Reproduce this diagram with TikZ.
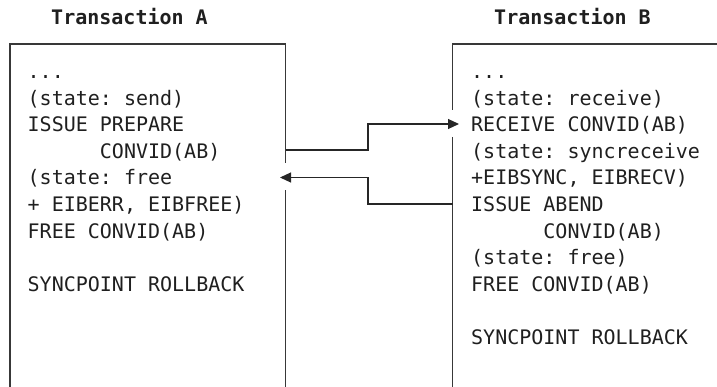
\documentclass[tikz,border=0pt]{standalone}
\usepackage{fontspec}
\newfontfamily\mono{DejaVu Sans Mono}
\usetikzlibrary{arrows.meta}
\tikzset{
  edge/.style={draw=black!78, line width=1.3pt},
  conn/.style={draw=black!85, line width=1.1pt},
  tip/.style={-{Triangle[length=11pt,width=10pt]}},
  title/.style={font={\mono\bfseries\fontsize{20}{24}\selectfont}, text=black!88, inner sep=0pt, anchor=base},
  code/.style={font={\mono\frenchspacing\fontsize{20}{26.6}\selectfont}, text=black!88, inner sep=0pt, align=left, anchor=base west},
}
\newcommand{\ind}{\hphantom{CONVID}}
\begin{document}
\frenchspacing
\begin{tikzpicture}[x=1pt,y=-1pt]
\useasboundingbox (0,0) rectangle (717,387);
% titles
\node[title] (tA) at (129.5,25) {Transaction A};
\node[title] (tB) at (572.5,25) {Transaction B};
% box corners
\coordinate (aTL) at (10,44);
\coordinate (aTR) at (285.5,44);
\coordinate (aBL) at (10,387);
\coordinate (aBR) at (285.5,387);
\coordinate (aG1) at (285.5,163.5);
\coordinate (aG2) at (285.5,190.5);
\coordinate (bTL) at (452.5,44);
\coordinate (bTR) at (717,44);
\coordinate (bBL) at (452.5,387);
\coordinate (bG1) at (452.5,110.5);
\coordinate (bG2) at (452.5,137);
% box outlines (open at the bottom)
\draw[edge] (aBL) -- (aTL) -- (aTR) -- (aG1);
\draw[edge] (aG2) -- (aBR);
\draw[edge] (bTR) -- (bTL) -- (bG1);
\draw[edge] (bG2) -- (bBL);
% texts (base anchor = baseline of the last line)
\node[code] (txtA) at (27.5,291.3) {...\\
(state: send)\\
ISSUE PREPARE\\
\ind CONVID(AB)\\
(state: free\\
+ EIBERR, EIBFREE)\\
FREE CONVID(AB)\\
\mbox{}\\
SYNCPOINT ROLLBACK};
\node[code] (txtB) at (471,344.5) {...\\
(state: receive)\\
RECEIVE CONVID(AB)\\
(state: syncreceive\\
+EIBSYNC, EIBRECV)\\
ISSUE ABEND\\
\ind CONVID(AB)\\
(state: free)\\
FREE CONVID(AB)\\
\mbox{}\\
SYNCPOINT ROLLBACK};
% connectors
\coordinate (s1) at (285.5,150);
\coordinate (k1) at (368,150);
\coordinate (k2) at (368,124);
\coordinate (e1) at (459,124);
\coordinate (s2) at (452.5,204);
\coordinate (k3) at (368,204);
\coordinate (k4) at (368,177.5);
\coordinate (e2) at (280,177.5);
\draw[conn,tip] (s1) -- (k1) -- (k2) -- (e1);
\draw[conn,tip] (s2) -- (k3) -- (k4) -- (e2);
\end{tikzpicture}
\end{document}
